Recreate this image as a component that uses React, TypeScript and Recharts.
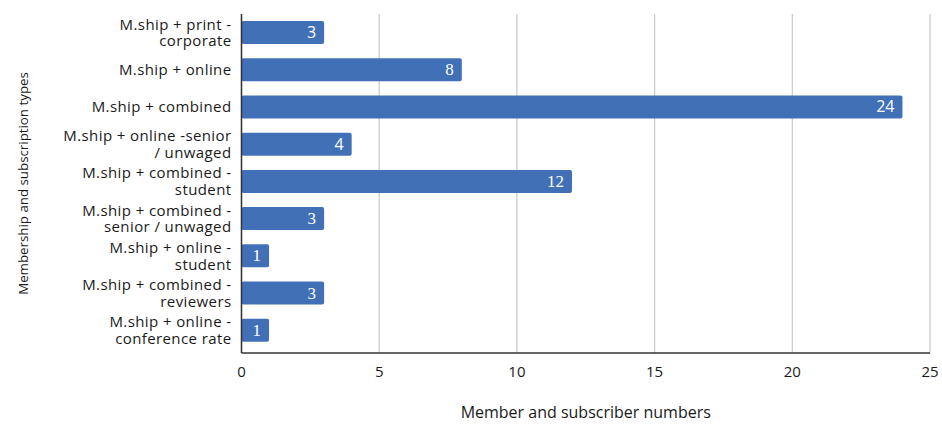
import React from 'react';
import { BarChart, Bar, XAxis, YAxis, CartesianGrid, LabelList } from 'recharts';

const categories = [
  'M.ship + print -\ncorporate',
  'M.ship + online',
  'M.ship + combined',
  'M.ship + online -senior\n/ unwaged',
  'M.ship + combined -\nstudent',
  'M.ship + combined -\nsenior / unwaged',
  'M.ship + online -\nstudent',
  'M.ship + combined -\nreviewers',
  'M.ship + online -\nconference rate',
];
const counts = [3, 8, 24, 4, 12, 3, 1, 3, 1];
const xTicks = [0, 5, 10, 15, 20, 25];
const labelSerif = [false, true, false, false, true, true, true, true, true];

const data = categories.map((c, i) => ({ name: c, value: counts[i] }));

const FONT = '"Open Sans", sans-serif';

const YTick = (props: any) => {
  const { x, y, payload } = props;
  const lines = String(payload.value).split('\n');
  const lh = 16.7;
  const start = -((lines.length - 1) * lh) / 2 + 5.3;
  return (
    <text x={x} y={y} textAnchor="end" fontFamily={FONT} fontSize={15} letterSpacing={0.4} fill="#1a1a1a">
      {lines.map((l, i) => (
        <tspan key={i} x={x} dy={i === 0 ? start : lh}>{l}</tspan>
      ))}
    </text>
  );
};

const ValueLabel = (props: any) => {
  const { x, y, width, height, value, index } = props;
  const serif = labelSerif[index];
  return (
    <text
      x={x + width - 8}
      y={y + height / 2}
      dy={5.5}
      textAnchor="end"
      fill="#ffffff"
      fontSize={serif ? 17 : 16}
      fontFamily={serif ? '"Liberation Serif", serif' : FONT}
    >
      {value}
    </text>
  );
};

const YTitle = (props: any) => {
  const { viewBox } = props;
  const cx = 23;
  const cy = viewBox.y + viewBox.height / 2;
  return (
    <text x={cx} y={cy} transform={`rotate(-90 ${cx} ${cy})`} textAnchor="middle" dy={5} fontFamily={FONT} fontSize={13.3} fill="#1a1a1a">
      Membership and subscription types
    </text>
  );
};

const XTitle = (props: any) => {
  const { viewBox } = props;
  const cx = viewBox.x + viewBox.width / 2;
  return (
    <text x={cx} y={418} textAnchor="middle" fontFamily={FONT} fontSize={16} fill="#1a1a1a">
      Member and subscriber numbers
    </text>
  );
};

export default function App() {
  return (
    <div style={{ position: 'absolute', left: 0, top: 0, background: '#fff' }}>
      <BarChart
        width={942}
        height={427}
        data={data}
        layout="vertical"
        margin={{ top: 14, right: 12, bottom: 4, left: 0 }}
        barSize={23}
      >
        <CartesianGrid horizontal={false} vertical={true} stroke="#c8c8c8" strokeWidth={1.2} />
        <XAxis
          type="number"
          domain={[0, 25]}
          ticks={xTicks}
          height={70}
          axisLine={{ stroke: '#333', strokeWidth: 1.5 }}
          tickLine={false}
          tick={{ fontFamily: FONT, fontSize: 15, fill: '#1a1a1a' }}
          tickMargin={7}
          label={<XTitle />}
        />
        <YAxis
          type="category"
          dataKey="name"
          width={241.5}
          axisLine={{ stroke: '#333', strokeWidth: 1.5 }}
          tickLine={false}
          tick={<YTick />}
          tickMargin={4}
          interval={0}
          padding={{ top: 0, bottom: 4 }}
          label={<YTitle />}
        />
        <Bar dataKey="value" fill="#4170B6" radius={[2, 2, 2, 2]} isAnimationActive={false}>
          <LabelList dataKey="value" content={<ValueLabel />} />
        </Bar>
      </BarChart>
    </div>
  );
}
